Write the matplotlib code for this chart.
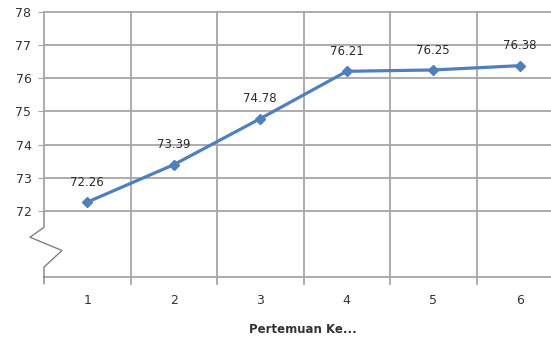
import matplotlib.pyplot as plt

pertemuan = [1, 2, 3, 4, 5, 6]
nilai = [72.26, 73.39, 74.78, 76.21, 76.25, 76.38]
y_ticks = [72, 73, 74, 75, 76, 77, 78]

grid_c = '#a6a6a6'

fig = plt.figure(figsize=(5.51, 3.44), dpi=100)
ax = fig.add_axes([44 / 551, 1 - 277 / 344, 519 / 551, 265 / 344])

ax.set_xlim(0.5, 6.5)
ax.set_ylim(70, 78)

# garis grid horizontal pada tiap nilai
for v in y_ticks:
    ax.plot([0.5, 6.5], [v, v], color=grid_c, lw=1.3, clip_on=False, zorder=1)
ax.plot([0.5, 6.5], [70, 70], color=grid_c, lw=1.3, clip_on=False, zorder=1)

# garis vertikal pemisah kategori (ikut turun sedikit di bawah sumbu)
for b in [i + 0.5 for i in range(1, 7)]:
    ax.plot([b, b], [69.8, 78], color=grid_c, lw=1.3, clip_on=False, zorder=1)

ax.plot(pertemuan, nilai, color='#4f7fbc', lw=2.3, marker='D', markersize=5.5, zorder=3)
for x, y in zip(pertemuan, nilai):
    ax.text(x, y + 0.4, f'{y:.2f}', ha='center', va='bottom', fontsize=8.5, color='#2a2a2a')

for s in ax.spines.values():
    s.set_visible(False)

# sumbu kiri dengan tanda patah di bawah 72
bx = [0.5, 0.5, 0.5 - 14 / 86.5, 0.5 + 18 / 86.5, 0.5, 0.5]
by = [72, 71.5, 71.2, 70.8, 70.3, 69.8]
ax.plot(bx, by, color='#808080', lw=1, clip_on=False, zorder=2)
ax.plot([0.5, 0.5], [72, 78], color=grid_c, lw=1.3, clip_on=False, zorder=2)

ax.set_yticks(y_ticks)
ax.set_yticklabels([str(v) for v in y_ticks], fontsize=9, color='#333333')
ax.tick_params(axis='y', length=4, color=grid_c, pad=5)
ax.set_xticks(pertemuan)
ax.set_xticklabels([str(p) for p in pertemuan], fontsize=9, color='#333333')
ax.tick_params(axis='x', length=0, pad=12)
ax.set_xlabel('Pertemuan Ke...', fontsize=8.5, fontweight='bold', color='#333333')
ax.xaxis.set_label_coords((303 - 44) / 519, -46 / 265)

fig.savefig('out.png', dpi=100)
